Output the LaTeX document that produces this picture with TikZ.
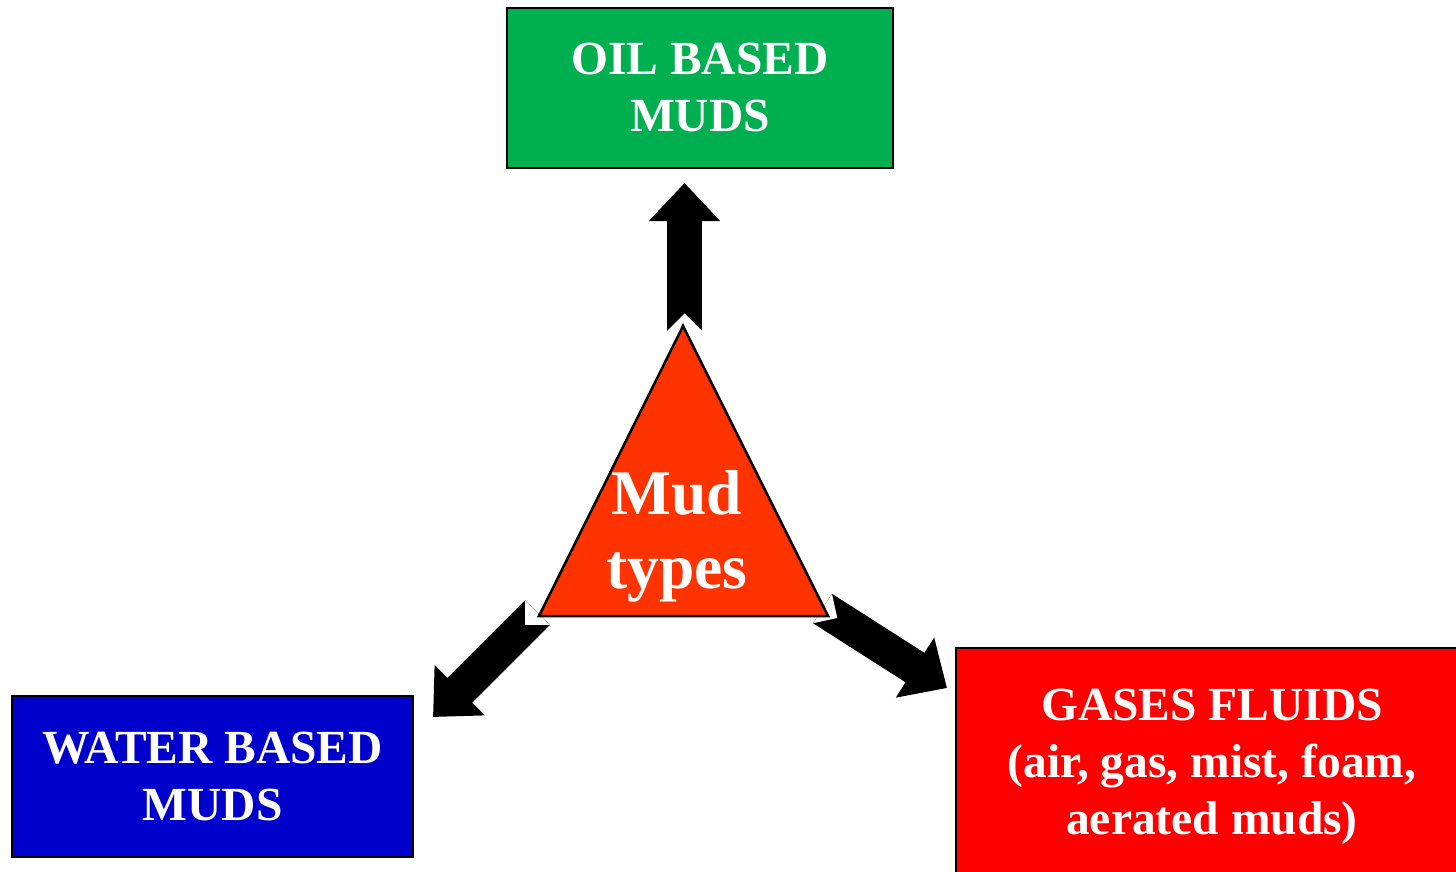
\documentclass[tikz,border=0pt]{standalone}
\usepackage{fontspec}
\setmainfont{Liberation Serif}
\usetikzlibrary{arrows.meta,calc}

\definecolor{oilgreen}{RGB}{0,176,80}
\definecolor{waterblue}{RGB}{0,0,204}
\definecolor{gasred}{RGB}{255,0,0}
\definecolor{mudorange}{RGB}{255,51,0}

\begin{document}
\begin{tikzpicture}[x=1pt,y=1pt,yscale=-1,xscale=1,
  mudbox/.style={draw=black, line width=2.5pt, text=white, inner sep=0pt, align=center, font=\bfseries\fontsize{47.5}{57}\selectfont},
  bigarrow/.style={line width=35pt, -{Triangle[width=69pt,length=38pt]}}]
\useasboundingbox (0,0) rectangle (1456,871);
\clip (0,0) rectangle (1456,871);

%Shape: Rectangle [id:oil]
\node[mudbox, fill=oilgreen, minimum width=386pt, minimum height=160pt] (oil) at (700,88) {OIL BASED\\MUDS};
%Shape: Rectangle [id:water]
\node[mudbox, fill=waterblue, minimum width=401pt, minimum height=161pt] (water) at (212.5,776.5) {WATER BASED\\MUDS};
%Shape: Rectangle [id:gas]
\node[mudbox, fill=gasred, minimum width=512pt, minimum height=238pt] (gas) at (1212,767) {GASES FLUIDS\\(air, gas, mist, foam,\\aerated muds)};

%Block Arrows
\coordinate (upTail) at (684.5,331);
\coordinate (upTip) at (684.5,183);
\coordinate (leftTail) at (537.5,612.5);
\coordinate (leftTip) at (433,717);
\coordinate (rightTail) at (822.5,608.5);
\coordinate (rightTip) at (947,688);
\foreach \t/\h in {upTail/upTip, leftTail/leftTip, rightTail/rightTip}{
  \draw[bigarrow] (\t) -- (\h);
  \fill[white] ($(\t)!17.5pt!90:(\h)$) -- ($(\t)!17.5pt!(\h)$) -- ($(\t)!17.5pt!-90:(\h)$) -- cycle;
}

%Shape: Triangle [id:mud]
\coordinate (apex) at (683,326);
\coordinate (baseL) at (539,616);
\coordinate (baseR) at (828,616);
\draw[line width=2.5pt, line join=miter, fill=mudorange] (apex) -- (baseL) -- (baseR) -- cycle;

% Text Node
\node[text=white, inner sep=0pt, align=center, font=\bfseries\fontsize{63.5}{74}\selectfont] (mud) at (677,536) {Mud\\types};

\end{tikzpicture}
\end{document}
